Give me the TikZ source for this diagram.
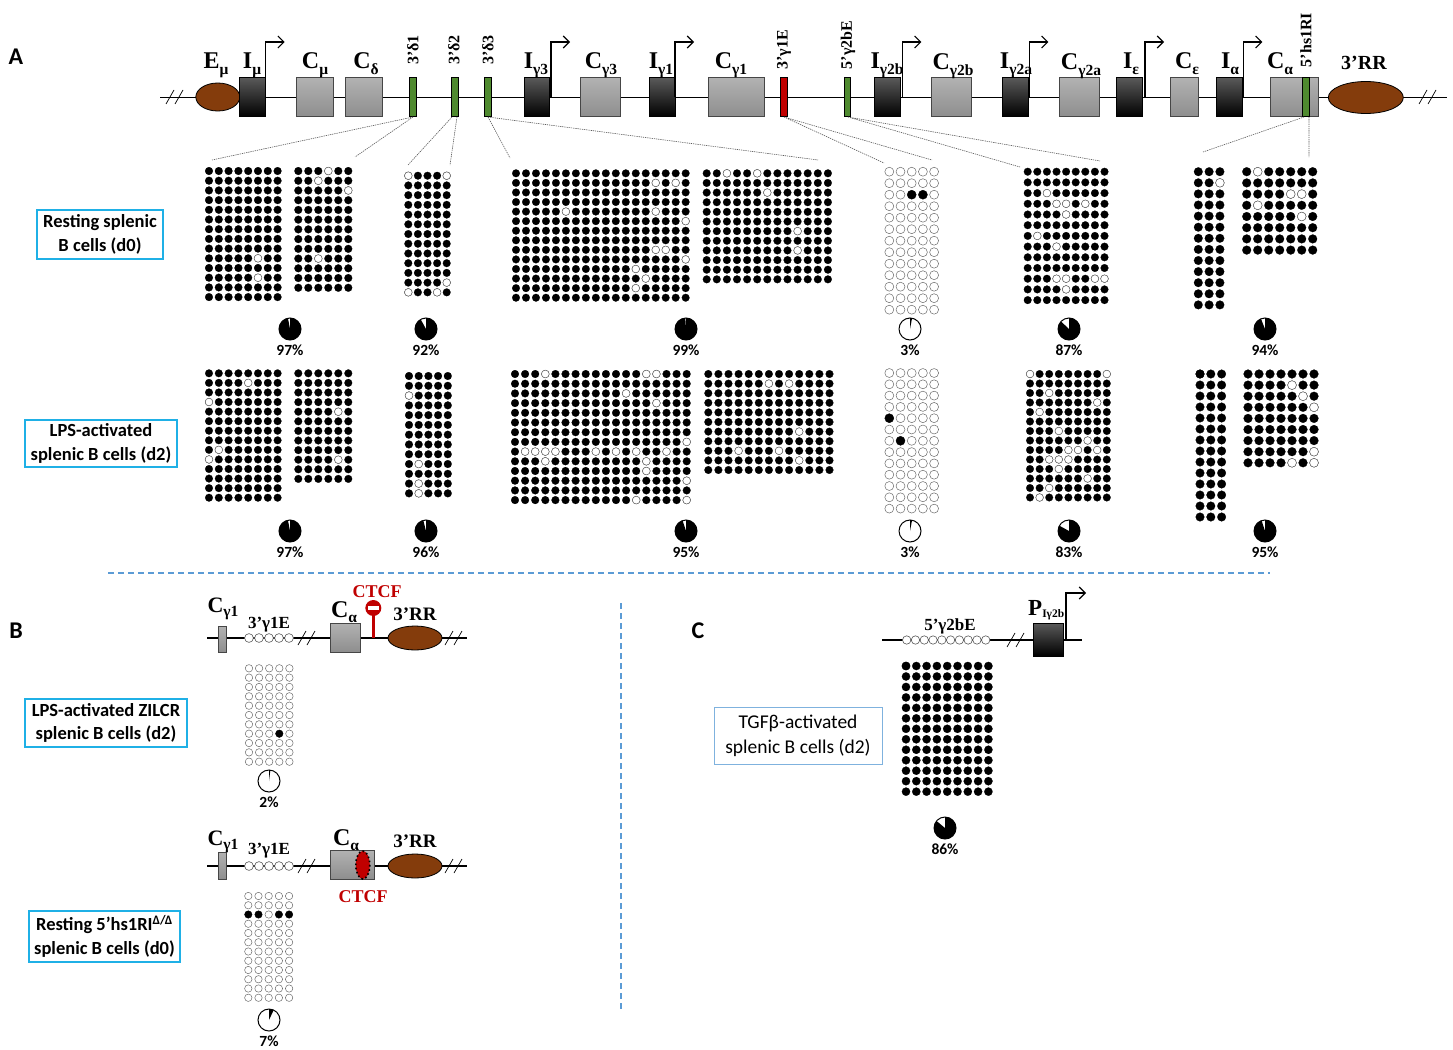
\documentclass[tikz,border=0pt]{standalone}
\usepackage{fontspec}
\setmainfont{Liberation Serif}
\newfontfamily\calibfont{Carlito}
\usetikzlibrary{arrows.meta,positioning}

\definecolor{rrbrown}{HTML}{843C0C}
\definecolor{enhgreen}{HTML}{4F8A2F}
\definecolor{enhred}{HTML}{C00000}
\definecolor{ctcfred}{HTML}{C00000}
\definecolor{boxcyan}{HTML}{1FB0E6}
\definecolor{boxpale}{HTML}{7FB2DE}
\definecolor{sepblue}{HTML}{5B9BD5}
\definecolor{idark}{HTML}{5A5A5A}
\definecolor{cgtop}{HTML}{B2B2B2}
\definecolor{cgbot}{HTML}{8E8E8E}

% gene subscripts
\newcommand{\gsub}[1]{\raisebox{-0.22em}{\fontsize{15.5}{16}\selectfont\bfseries #1}}
% grid of CpG circles: x, y, cols, rows, dx, dy, style, exceptions (col/row from 0), style of exceptions
\newcommand{\cpggrid}[9]{%
  \foreach \gi in {1,...,#3}{\foreach \gj in {1,...,#4}{%
    \path[#7] ({#1+(\gi-1)*#5},{#2+(\gj-1)*#6}) circle[radius={0.4*min(#5,#6)}];}}%
  \foreach \gi/\gj in {#8}{%
    \path[#9] ({#1+\gi*#5},{#2+\gj*#6}) circle[radius={0.4*min(#5,#6)}];}}
% methylation pie: name, x, y, percent
\newcommand{\mpie}[4]{%
  \fill (#2,#3) -- ++(-90:11) arc[start angle=-90,end angle={-90+3.6*#4},radius=11] -- cycle;
  \node[pieo] (#1) at (#2,#3) {};
  \node[pct, below=4pt of #1] (#1l) {#4\%};}
% break mark
\newcommand{\brk}[2]{\draw[brkline] ({#1-9},{#2+7}) -- ({#1-1},{#2-7}) (#1,{#2+7}) -- ({#1+8},{#2-7});}

\begin{document}
\begin{tikzpicture}[x=1pt,y=-1pt,
  dna/.style={line width=0.9pt},
  dnab/.style={line width=1.6pt},
  ibox/.style={draw=black, line width=0.5pt, top color=idark, bottom color=black},
  cbox/.style={draw=gray!55!black, line width=0.5pt, top color=cgtop, bottom color=cgbot},
  enh/.style={draw=black, line width=0.5pt, fill=enhgreen},
  enhr/.style={draw=black, line width=0.5pt, fill=enhred},
  prom/.style={line width=1.1pt, -{Straight Barb[length=6pt,width=12pt]}},
  brkline/.style={line width=0.7pt},
  glbl/.style={font=\bfseries\fontsize{24}{26}\selectfont, inner sep=0pt, anchor=base},
  glbls/.style={font=\bfseries\fontsize{17}{18}\selectfont, inner sep=0pt, anchor=base},
  rotlbl/.style={rotate=90, font=\bfseries\fontsize{16}{16}\selectfont, inner sep=0pt},
  conn/.style={gray!70!black, line width=0.6pt, dash pattern=on 1.3pt off 0.9pt},
  meth/.style={fill=black, draw=black, line width=0.2pt},
  unmeth/.style={fill=white, draw=gray!85!black, line width=0.5pt},
  cpgline/.style={fill=white, draw=gray!70!black, line width=0.6pt},
  pieo/.style={circle, draw, line width=1pt, minimum size=22pt, inner sep=0pt},
  pct/.style={font=\calibfont\bfseries\fontsize{15.5}{16}\selectfont, inner sep=0pt},
  cond/.style={draw=boxcyan, line width=1.3pt, align=center, inner sep=0pt,
    font=\calibfont\bfseries\fontsize{18.5}{23.5}\selectfont},
  panel/.style={font=\calibfont\bfseries\fontsize{24}{24}\selectfont, inner sep=0pt},
  sep/.style={sepblue, line width=1.5pt, dash pattern=on 6pt off 4pt}]

\useasboundingbox (0,0) rectangle (1453,1049);

% ---------- A: locus ----------
\node[panel] (pA) at (16,57) {A};
\draw[dna] (160,97) -- (1447,97);
\brk{175}{97}
\brk{1428}{97}
\draw[draw=black, line width=0.8pt, fill=rrbrown] (217.8,97) ellipse[x radius=22, y radius=14];
\draw[draw=black, line width=0.8pt, fill=rrbrown] (1365.8,97.5) ellipse[x radius=37.5, y radius=16];
\foreach \xa/\xb in {239/265.7, 524/549.3, 649/675, 874/900, 1002.3/1028.3, 1116.7/1142.7, 1216.7/1242.7}
  \draw[ibox] (\xa,77.3) rectangle (\xb,116.7);
\foreach \xa/\xb in {296/333.3, 345.7/382.3, 580.7/620, 708.3/764, 931/971.7, 1059.3/1099, 1170.7/1198.3, 1270.7/1318.7}
  \draw[cbox] (\xa,77.3) rectangle (\xb,116.7);
\foreach \xa/\xb in {409.3/416.7, 451.7/458.3, 484.3/491, 844/850.7, 1302.3/1309}
  \draw[enh] (\xa,77.3) rectangle (\xb,116.7);
\draw[enhr] (780.3,77.3) rectangle (787.3,116.7);
\foreach \xp in {265.7, 551, 675, 902.3, 1029.3, 1145, 1243.3}
  \draw[prom] (\xp,97) -- (\xp,42) -- ({\xp+19},42);

\node[glbl] (lemu) at (216,69) {E\gsub{μ}};
\node[glbl] (limu) at (252,69) {I\gsub{μ}};
\node[glbl] (lcmu) at (315,69) {C\gsub{μ}};
\node[glbl] (lcd) at (366,69) {C\gsub{δ}};
\node[glbl] (lig3) at (536,69) {I\gsub{γ3}};
\node[glbl] (lcg3) at (601,69) {C\gsub{γ3}};
\node[glbl] (lig1) at (661,69) {I\gsub{γ1}};
\node[glbl] (lcg1) at (731,69) {C\gsub{γ1}};
\node[glbl] (lig2b) at (887,69) {I\gsub{γ2b}};
\node[glbl] (lcg2b) at (953,70) {C\gsub{γ2b}};
\node[glbl] (lig2a) at (1016,69) {I\gsub{γ2a}};
\node[glbl] (lcg2a) at (1081,70) {C\gsub{γ2a}};
\node[glbl] (lie) at (1131,69) {I\gsub{ε}};
\node[glbl] (lce) at (1187,69) {C\gsub{ε}};
\node[glbl] (lia) at (1230,69) {I\gsub{α}};
\node[glbl] (lca) at (1280,69) {C\gsub{α}};
\node[glbl, font=\bfseries\fontsize{20}{22}\selectfont] (lrr) at (1364,70) {3’RR};
\node[rotlbl] (ld1) at (413,50) {3’δ1};
\node[rotlbl] (ld2) at (454,50) {3’δ2};
\node[rotlbl] (ld3) at (488,50) {3’δ3};
\node[rotlbl] (lg1e) at (784,50) {3’γ1E};
\node[rotlbl] (lg2be) at (848,45) {5’γ2bE};
\node[rotlbl] (lhs) at (1306,40) {5’hs1RI};

% connectors to the grids
\coordinate (d1b) at (413,117); \coordinate (d2b) at (452,117); \coordinate (d2c) at (457,117);
\coordinate (d3b) at (488,117); \coordinate (g1eb) at (784,117); \coordinate (g2bb) at (848,117);
\coordinate (hsb) at (1304,117); \coordinate (hsc) at (1309,117);
\coordinate (t1) at (212,160); \coordinate (t2) at (355,157); \coordinate (t3) at (408,165);
\coordinate (t4) at (450,165); \coordinate (t5) at (510,158); \coordinate (t6) at (818,160);
\coordinate (t7) at (884,163); \coordinate (t8) at (932,160); \coordinate (t9) at (1020,167);
\coordinate (t10) at (1100,161); \coordinate (t11) at (1203,152); \coordinate (t12) at (1309,157);
\draw[conn] (d1b) -- (t1) (d1b) -- (t2) (d2b) -- (t3) (d2c) -- (t4)
  (d3b) -- (t5) (d3b) -- (t6) (g1eb) -- (t7) (g1eb) -- (t8)
  (g2bb) -- (t9) (g2bb) -- (t10) (hsb) -- (t11) (hsc) -- (t12);

% ---------- A: resting d0 ----------
\node[cond, minimum width=126pt, minimum height=49pt] (cd0) at (100,234.5) {Resting splenic\\B cells (d0)};
\cpggrid{209}{171}{8}{14}{9.8}{9.7}{meth}{5/9,5/11}{unmeth}
\cpggrid{298.3}{171}{6}{13}{10}{9.73}{meth}{3/0,2/1,5/2,2/9}{unmeth}
\cpggrid{408.3}{175.7}{5}{13}{9.6}{9.72}{meth}{0/0,4/0,4/11,0/12,3/12}{unmeth}
\cpggrid{516}{173.3}{18}{14}{9.98}{9.57}{meth}{14/1,16/1,5/4,14/4,17/5,14/8,15/8,17/9,12/10,13/11,12/12}{unmeth}
\cpggrid{706.7}{173.3}{13}{12}{10.1}{9.64}{meth}{2/0,5/0,6/2,9/6,9/8}{unmeth}
\cpggrid{889.3}{171.7}{5}{13}{11.2}{11.5}{unmeth}{2/2,3/2}{meth}
\cpggrid{1027.7}{171.7}{9}{13}{9.6}{10.7}{meth}{2/2,3/3,4/3,6/3,4/4,1/6,3/7,3/10,4/10,7/10,8/10,4/11}{unmeth}
\cpggrid{1198.3}{171.7}{3}{13}{10.8}{11.1}{meth}{2/1}{unmeth}
\cpggrid{1246.7}{171.7}{7}{8}{11}{11.2}{meth}{1/0,4/2,5/2,1/3,5/4}{unmeth}
\mpie{pa1}{290}{329}{97}
\mpie{pa2}{426}{329}{92}
\mpie{pa3}{686}{329}{99}
\mpie{pa4}{910}{329}{3}
\mpie{pa5}{1069}{329}{87}
\mpie{pa6}{1265}{329}{94}

% ---------- A: LPS d2 ----------
\node[cond, minimum width=152pt, minimum height=47pt] (cd2) at (101,443.5) {LPS-activated\\splenic B cells (d2)};
\cpggrid{209}{373.3}{8}{14}{9.8}{9.57}{meth}{4/1,0/3,1/8,0/9}{unmeth}
\cpggrid{298.3}{373.3}{6}{12}{10}{9.6}{meth}{4/4,4/9}{unmeth}
\cpggrid{409}{376}{5}{13}{9.7}{9.78}{meth}{0/2,1/9,1/11,1/12}{unmeth}
\cpggrid{515}{374}{18}{14}{10.1}{9.7}{meth}{3/0,13/0,14/0,11/2,14/3,17/7,1/8,2/8,3/8,4/8,8/8,10/8,12/8,15/8,3/9,13/9,13/10,17/11,12/13,17/13}{unmeth}
\cpggrid{708.3}{374}{13}{11}{10.1}{9.6}{meth}{6/1,8/1,9/6,3/8,7/8,9/9}{unmeth}
\cpggrid{889.3}{373}{5}{13}{11.2}{11.3}{unmeth}{0/4,1/6}{meth}
\cpggrid{1030}{374}{9}{14}{9.6}{9.5}{meth}{0/0,8/0,2/2,7/3,1/4,3/6,6/7,4/8,5/8,7/8,2/9,3/9,4/9,3/10,6/11,2/12,1/13}{unmeth}
\cpggrid{1200}{374}{3}{14}{10.8}{11}{meth}{0/0}{meth}
\cpggrid{1248}{374}{7}{9}{11}{11.1}{meth}{4/1,5/2,6/3,6/7,4/8,6/8}{unmeth}
\mpie{pb1}{290}{531}{97}
\mpie{pb2}{426}{531}{96}
\mpie{pb3}{686}{531}{95}
\mpie{pb4}{910}{531}{3}
\mpie{pb5}{1069}{531}{83}
\mpie{pb6}{1265}{531}{95}

% separators
\coordinate (sh1) at (108,573); \coordinate (sh2) at (1270,573);
\coordinate (sv1) at (621,603); \coordinate (sv2) at (621,1012);
\draw[sep] (sh1) -- (sh2);
\draw[sep] (sv1) -- (sv2);

% ---------- B ----------
\node[panel] (pB) at (16,631) {B};
\draw[dnab] (207,638) -- (467,638);
\brk{307}{638}
\brk{454}{638}
\draw[cbox] (218,626) rectangle (226,652);
\foreach \i in {0,...,4} \path[cpgline] ({249+10*\i},638) circle[radius=4.4];
\draw[cbox] (330,623) rectangle (360,652);
\draw[ctcfred, line width=2.5pt] (373.3,638) -- (373.3,612);
\fill[ctcfred] (373.3,608) circle[radius=8];
\fill[white] (368,606.3) rectangle (378.6,609.8);
\draw[draw=black, line width=0.8pt, fill=rrbrown] (415,638) ellipse[x radius=27, y radius=12];
\node[glbl, font=\bfseries\fontsize{22}{24}\selectfont] (bcg1) at (223,612) {C\gsub{γ1}};
\node[glbls] (bg1e) at (269,628) {3’γ1E};
\node[glbl] (bca) at (344,617) {C\gsub{α}};
\node[glbls, text=ctcfred, font=\bfseries\fontsize{18}{18}\selectfont] (bctcf) at (377,597) {CTCF};
\node[glbls, font=\bfseries\fontsize{19}{20}\selectfont] (brr) at (415,620) {3’RR};
\node[cond, minimum width=162pt, minimum height=48pt] (czil) at (106,723) {LPS-activated ZILCR\\splenic B cells (d2)};
\cpggrid{249}{668.3}{5}{11}{10.1}{9.34}{unmeth}{3/7}{meth}
\mpie{pc1}{269}{781}{2}

\draw[dnab] (207,866) -- (467,866);
\brk{307}{866}
\brk{454}{866}
\draw[cbox] (218,852) rectangle (226,879);
\foreach \i in {0,...,4} \path[cpgline] ({249+10*\i},866) circle[radius=4.4];
\draw[cbox] (330,850) rectangle (374,879);
\draw[fill=ctcfred, draw=black, line width=1.6pt, dash pattern=on 1.6pt off 2.6pt] (362.8,865) ellipse[x radius=7, y radius=14];
\draw[draw=black, line width=0.8pt, fill=rrbrown] (415,866) ellipse[x radius=27, y radius=12];
\node[glbl, font=\bfseries\fontsize{22}{24}\selectfont] (bcg1b) at (223,845) {C\gsub{γ1}};
\node[glbls] (bg1eb) at (269,854) {3’γ1E};
\node[glbl] (bcab) at (346,845) {C\gsub{α}};
\node[glbls, text=ctcfred, font=\bfseries\fontsize{18}{18}\selectfont] (bctcfb) at (363,902) {CTCF};
\node[glbls, font=\bfseries\fontsize{19}{20}\selectfont] (brrb) at (415,847) {3’RR};
\node[cond, minimum width=151pt, minimum height=51pt] (chs) at (104.5,936.5) {Resting 5’hs1RI\textsuperscript{Δ/Δ}\\splenic B cells (d0)};
\cpggrid{248.3}{896}{5}{12}{10.2}{9.25}{unmeth}{0/2,1/2,3/2,4/2}{meth}
\mpie{pc2}{269}{1020}{7}

% ---------- C ----------
\node[panel] (pC) at (698,631) {C};
\draw[dnab] (882,640) -- (1082,640);
\brk{1016}{640}
\foreach \i in {0,...,9} \path[cpgline] ({906.7+8.78*\i},640) circle[radius=4.2];
\draw[ibox] (1033,623) rectangle (1063,656);
\draw[prom] (1066,640) -- (1066,593) -- (1086,593);
\node[glbls] (cg2be) at (950,630) {5’γ2bE};
\node[glbl, anchor=base west, font=\bfseries\fontsize{23}{24}\selectfont] (cpi) at (1028,615)
  {P\raisebox{-0.1em}{\fontsize{11.5}{12}\selectfont\bfseries Iγ2b}};
\node[cond, draw=boxpale, line width=1pt, minimum width=168pt, minimum height=57pt,
  font=\calibfont\fontsize{19.5}{25}\selectfont] (ctgf) at (798,735.5) {TGFβ-activated\\splenic B cells (d2)};
\cpggrid{906}{666}{9}{13}{10.3}{10.47}{meth}{0/0}{meth}
\mpie{pd1}{945}{828}{86}
\end{tikzpicture}
\end{document}
